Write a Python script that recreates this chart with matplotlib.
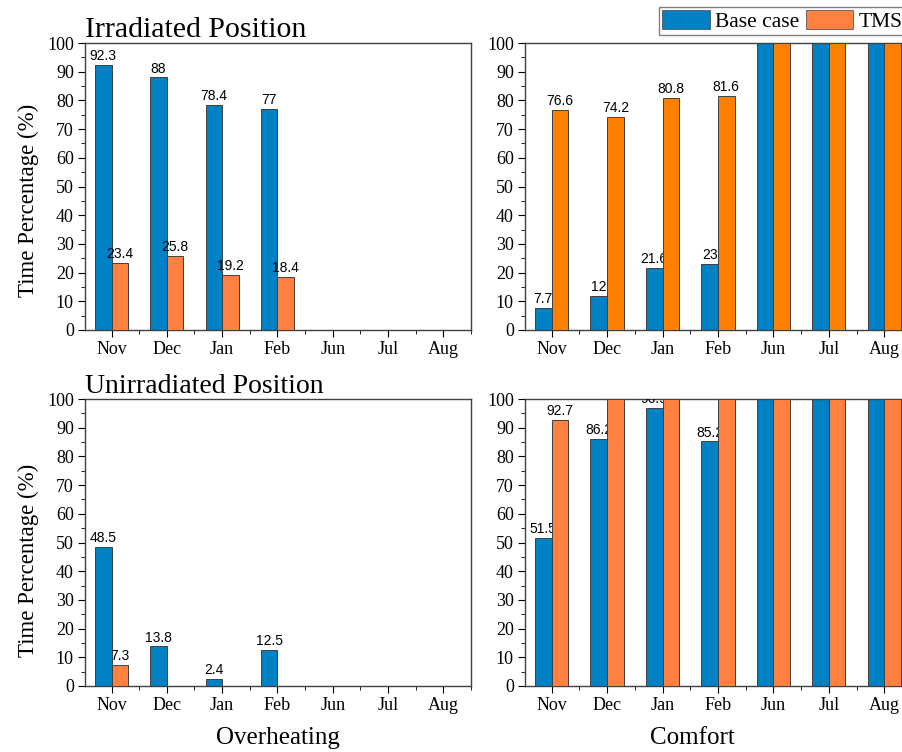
import matplotlib
matplotlib.use('Agg')
import matplotlib.pyplot as plt
from matplotlib.patches import Patch
from matplotlib.ticker import MultipleLocator
import numpy as np

plt.rcParams['font.family'] = 'Liberation Serif'

months = ['Nov', 'Dec', 'Jan', 'Feb', 'Jun', 'Jul', 'Aug']

# overheating, irradiated position
ir_over_base = [92.3, 88, 78.4, 77, 0, 0, 0]
ir_over_tms = [23.4, 25.8, 19.2, 18.4, 0, 0, 0]
# comfort, irradiated position
ir_comf_base = [7.7, 12, 21.6, 23, 100, 100, 100]
ir_comf_tms = [76.6, 74.2, 80.8, 81.6, 100, 100, 100]
# overheating, unirradiated position
un_over_base = [48.5, 13.8, 2.4, 12.5, 0, 0, 0]
un_over_tms = [7.3, 0, 0, 0, 0, 0, 0]
# comfort, unirradiated position
un_comf_base = [51.5, 86.2, 96.9, 85.2, 100, 100, 100]
un_comf_tms = [92.7, 100, 100, 100, 100, 100, 100]

blue = '#0081C6'
orange_light = '#FF8040'
orange = '#FF8000'

W, H = 902, 752
fig = plt.figure(figsize=(W / 100, H / 100), dpi=100)


def px_axes(x0, y0, x1, y1):
    return fig.add_axes([x0 / W, 1 - y1 / H, (x1 - x0) / W, (y1 - y0) / H])


def draw(ax, base, tms, tms_color):
    x = np.arange(len(months))
    w = 0.3
    ax.bar(x - w / 2, base, w, color=blue, edgecolor='#404040', linewidth=0.7, zorder=2)
    ax.bar(x + w / 2, tms, w, color=tms_color, edgecolor='#404040', linewidth=0.7, zorder=4)
    # value labels; blue ones sit under the orange bars like in the original
    for xi, v in zip(x, base):
        if v > 0:
            ax.text(xi - w / 2, v + 1.7, f'{v:g}', ha='center', va='baseline',
                    family='Liberation Sans', fontsize=10, zorder=3, clip_on=True)
    for xi, v in zip(x, tms):
        if v > 0:
            ax.text(xi + w / 2, v + 1.7, f'{v:g}', ha='center', va='baseline',
                    family='Liberation Sans', fontsize=10, zorder=5, clip_on=True)
    ax.set_xlim(-0.48, 6.5)
    ax.set_ylim(0, 100)
    ax.set_xticks(x)
    ax.set_xticklabels(months)
    ax.xaxis.set_minor_locator(MultipleLocator(0.5))
    ax.yaxis.set_major_locator(MultipleLocator(10))
    ax.yaxis.set_minor_locator(MultipleLocator(5))
    ax.tick_params(which='both', direction='out', top=False, right=False)
    ax.tick_params(which='major', length=5, labelsize=13, pad=3)
    ax.tick_params(which='minor', length=3)
    for s in ax.spines.values():
        s.set_color('#404040')
        s.set_linewidth(1.0)


ax1 = px_axes(85, 43, 471, 330)
draw(ax1, ir_over_base, ir_over_tms, orange_light)
ax2 = px_axes(525, 43, 912, 330)
draw(ax2, ir_comf_base, ir_comf_tms, orange)
ax3 = px_axes(85, 399, 471, 686)
draw(ax3, un_over_base, un_over_tms, orange_light)
ax4 = px_axes(525, 399, 912, 686)
draw(ax4, un_comf_base, un_comf_tms, orange_light)

ax1.set_title('Irradiated Position', loc='left', fontsize=21.5, pad=1)
ax3.set_title('Unirradiated Position', loc='left', fontsize=20, pad=1)

fig.text(28 / W, 1 - 200 / H, 'Time Percentage (%)', rotation=90, ha='center', va='center', fontsize=16.5)
fig.text(28 / W, 1 - 560 / H, 'Time Percentage (%)', rotation=90, ha='center', va='center', fontsize=16.5)
fig.text(278 / W, 1 - 738 / H, 'Overheating', ha='center', va='center', fontsize=18)
fig.text(692 / W, 1 - 738 / H, 'Comfort', ha='center', va='center', fontsize=18)

handles = [Patch(facecolor=blue, edgecolor='#404040', linewidth=0.5),
           Patch(facecolor=orange_light, edgecolor='#404040', linewidth=0.5)]
leg = fig.legend(handles, ['Base case', 'TMS'], ncol=2, loc='upper left',
                 bbox_to_anchor=(659 / W, 1 - 7 / H), fontsize=15.5,
                 handlelength=2.2, handleheight=1.0, handletextpad=0.25,
                 columnspacing=0.3, borderpad=0.15, borderaxespad=0,
                 fancybox=False, framealpha=1, edgecolor='#808080')
leg.get_frame().set_linewidth(1.0)

fig.savefig('out.png', dpi=100)
